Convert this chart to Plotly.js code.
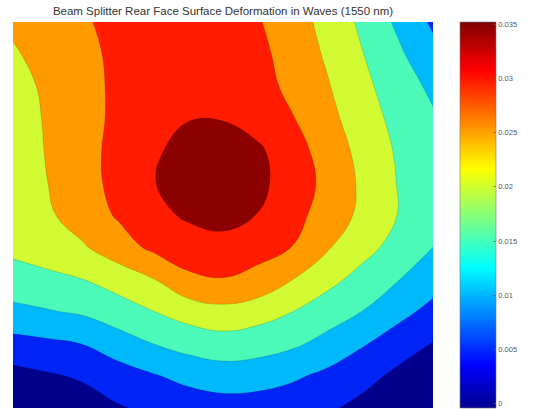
<!DOCTYPE html>
<html>
<head>
<meta charset="utf-8">
<script src="https://cdn.plot.ly/plotly-3.0.1.min.js"></script>
<style>
html,body{margin:0;padding:0;background:#fff;}
#chart{width:537px;height:410px;}
</style>
</head>
<body>
<div id="chart"></div>
<script>
// Grid positions (columns left->right, rows bottom->top)
const xGrid = [0,1,2,3,4,5,6,7,8,9,10,11,12];
const yGrid = [0,1,2,3,4,5,6,7,8,9,10,11,12];

// Surface deformation (waves), row by row from bottom to top
const row0  = [0.0005,0.0012,0.0028,0.0046,0.0059,0.0070,0.0077,0.0076,0.0068,0.0058,0.0034,0.0003,0.0000];
const row1  = [0.0033,0.0045,0.0056,0.0076,0.0096,0.0115,0.0127,0.0122,0.0108,0.0088,0.0068,0.0038,0.0010];
const row2  = [0.0083,0.0091,0.0101,0.0128,0.0150,0.0168,0.0177,0.0172,0.0158,0.0135,0.0104,0.0076,0.0048];
const row3  = [0.0138,0.0147,0.0157,0.0176,0.0199,0.0221,0.0236,0.0221,0.0200,0.0172,0.0149,0.0115,0.0086];
const row4  = [0.0179,0.0187,0.0200,0.0222,0.0248,0.0292,0.0298,0.0288,0.0250,0.0215,0.0182,0.0152,0.0120];
const row5  = [0.0212,0.0229,0.0245,0.0278,0.0310,0.0322,0.0336,0.0314,0.0299,0.0254,0.0217,0.0182,0.0150];
const row6  = [0.0218,0.0243,0.0274,0.0305,0.0334,0.0358,0.0364,0.0349,0.0315,0.0279,0.0238,0.0199,0.0170];
const row7  = [0.0222,0.0250,0.0282,0.0314,0.0349,0.0360,0.0365,0.0360,0.0330,0.0284,0.0241,0.0198,0.0175];
const row8  = [0.0226,0.0253,0.0284,0.0314,0.0346,0.0359,0.0362,0.0358,0.0320,0.0278,0.0234,0.0194,0.0170];
const row9  = [0.0228,0.0255,0.0283,0.0310,0.0330,0.0349,0.0349,0.0329,0.0302,0.0264,0.0223,0.0185,0.0156];
const row10 = [0.0234,0.0258,0.0283,0.0310,0.0328,0.0340,0.0342,0.0318,0.0288,0.0253,0.0212,0.0174,0.0140];
const row11 = [0.0245,0.0266,0.0288,0.0310,0.0326,0.0336,0.0332,0.0313,0.0279,0.0243,0.0201,0.0159,0.0115];
const row12 = [0.0258,0.0277,0.0296,0.0310,0.0325,0.0333,0.0325,0.0304,0.0271,0.0234,0.0189,0.0141,0.0092];
const zRows = [row0,row1,row2,row3,row4,row5,row6,row7,row8,row9,row10,row11,row12];

// Colorbar ticks
const tickVals = [0,0.005,0.01,0.015,0.02,0.025,0.03,0.035];
const tickText = ['0','0.005','0.01','0.015','0.02','0.025','0.03','0.035'];

// Band fill colours, lowest band first
const bandColors = ['rgb(0,0,140)','rgb(0,36,245)','rgb(0,185,250)','rgb(75,250,185)',
                    'rgb(210,250,50)','rgb(255,155,0)','rgb(255,28,0)','rgb(140,0,0)'];
const bandScale = bandColors.map((c,i)=>[i/(bandColors.length-1), c]);

const jet = [[0,'rgb(0,0,143)'],[0.11,'rgb(0,0,255)'],[0.365,'rgb(0,255,255)'],
             [0.62,'rgb(255,255,0)'],[0.875,'rgb(255,0,0)'],[1,'rgb(128,0,0)']];

const contour = {
  type:'contour', x:xGrid, y:yGrid, z:zRows,
  colorscale: bandScale, showscale:false,
  contours:{start:0.005, end:0.035, size:0.005, coloring:'fill', showlines:true},
  line:{color:'rgba(0,0,0,0.25)', width:0.6, smoothing:1.2},
  hoverinfo:'skip'
};

const scaleTrace = {
  type:'scatter', mode:'markers', x:[null], y:[null], hoverinfo:'skip', showlegend:false,
  marker:{color:[0], cmin:-0.0004, cmax:0.0352, colorscale:jet, showscale:true,
    colorbar:{x:1.0643, xanchor:'left', y:0.5, yanchor:'middle',
      len:386, lenmode:'pixels', thickness:36, thicknessmode:'pixels',
      xpad:0, ypad:0, outlinewidth:0.6, outlinecolor:'#777',
      tickmode:'array', tickvals:tickVals, ticktext:tickText,
      ticks:'inside', ticklen:3, tickcolor:'#555', tickwidth:0.6,
      tickfont:{family:'Liberation Sans, Arial, sans-serif', size:7.5, color:'#555'}}}
};

const layout = {
  width:537, height:410,
  margin:{l:13, r:104, t:22, b:2},
  paper_bgcolor:'#fff', plot_bgcolor:'#fff',
  title:{text:'Beam Splitter Rear Face Surface Deformation in Waves (1550 nm)',
    font:{family:'Liberation Sans, Arial, sans-serif', size:11.5, color:'#333'},
    x:0.5, xref:'paper', xanchor:'center', y:1-11/410, yref:'container', yanchor:'middle'},
  xaxis:{range:[0,12], showgrid:false, zeroline:false, showticklabels:false, ticks:'', showline:false},
  yaxis:{range:[0,12], showgrid:false, zeroline:false, showticklabels:false, ticks:'', showline:false},
  showlegend:false
};

Plotly.newPlot('chart', [contour, scaleTrace], layout, {staticPlot:true, displayModeBar:false});
</script>
</body>
</html>
